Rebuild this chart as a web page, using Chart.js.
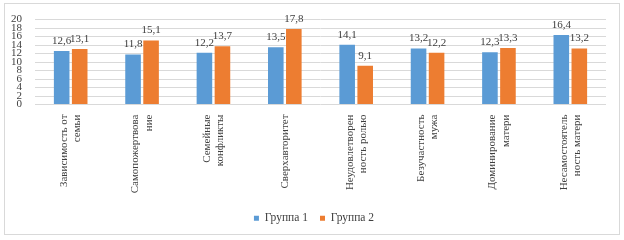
<!DOCTYPE html>
<html>
<head>
<meta charset="utf-8">
<script src="https://cdn.jsdelivr.net/npm/chart.js@4"></script>
<style>
  body { margin: 0; background: #fff; }
  #wrap { position: relative; width: 624px; height: 240px; }
  #frame { position: absolute; left: 4px; top: 3px; width: 616px; height: 232px;
           border: 1px solid #d9d9d9; box-sizing: border-box; pointer-events: none; }
  canvas { position: absolute; left: 0; top: 0; }
</style>
</head>
<body>
<div id="wrap">
  <canvas id="chart" width="624" height="240"></canvas>
  <div id="frame"></div>
</div>
<script>
// Kategorien (mehrzeilig wie im Original)
const categories = [
    ['Зависимость от', 'семьи'],
    ['Самопожертвова', 'ние'],
    ['Семейные', 'конфликты'],
    ['', 'Сверхавторитет'],
    ['Неудовлетворен', 'ность ролью'],
    ['Безучастность', 'мужа'],
    ['Доминирование', 'матери'],
    ['Несамостоятель', 'ность матери']
];
const group1 = [12.6, 11.8, 12.2, 13.5, 14.1, 13.2, 12.3, 16.4];
const group2 = [13.1, 15.1, 13.7, 17.8, 9.1, 12.2, 13.3, 13.2];
const seriesNames = ['Группа 1', 'Группа 2'];
const yMin = 0, yMax = 20, yStep = 2;

const FONT = 'Liberation Serif';
const TEXT = '#404040';

// Werte über den Balken (Komma als Dezimaltrenner)
const valueLabels = {
    id: 'valueLabels',
    afterDatasetsDraw(chart) {
        const { ctx } = chart;
        ctx.save();
        ctx.font = '11px "' + FONT + '"';
        ctx.fillStyle = TEXT;
        ctx.textAlign = 'center';
        ctx.textBaseline = 'alphabetic';
        chart.data.datasets.forEach((ds, i) => {
            const meta = chart.getDatasetMeta(i);
            meta.data.forEach((bar, j) => {
                const txt = ds.data[j].toFixed(1).replace('.', ',');
                ctx.fillText(txt, bar.x, bar.y - 7);
            });
        });
        ctx.restore();
    }
};

// Legende etwas nach rechts schieben (wie im Original)
const legendShift = {
    id: 'legendShift',
    afterLayout(chart) {
        if (chart.legend) {
            chart.legend.left += 6;
            chart.legend.right += 6;
        }
    }
};

new Chart(document.getElementById('chart'), {
    type: 'bar',
    data: {
        labels: categories,
        datasets: [
            {
                label: seriesNames[0],
                data: group1,
                backgroundColor: '#5b9bd5',
                categoryPercentage: 0.505,
                barPercentage: 0.865
            },
            {
                label: seriesNames[1],
                data: group2,
                backgroundColor: '#ed7d31',
                categoryPercentage: 0.505,
                barPercentage: 0.865
            }
        ]
    },
    options: {
        responsive: false,
        animation: false,
        layout: { padding: { left: 10, right: 18, top: 19, bottom: 6 } },
        plugins: {
            legend: {
                position: 'bottom',
                labels: {
                    boxWidth: 5,
                    boxHeight: 5,
                    padding: 12,
                    color: TEXT,
                    font: { family: FONT, size: 11.5 }
                }
            },
            tooltip: { enabled: false }
        },
        scales: {
            x: {
                grid: { display: false },
                border: { display: false },
                ticks: {
                    minRotation: 90,
                    maxRotation: 90,
                    autoSkip: false,
                    padding: 2,
                    labelOffset: -6.5,
                    color: TEXT,
                    // einzeiliges Label mittig setzen: kleine Zeilenhöhe für die Leerzeile
                    font: (c) => ({ family: FONT, size: 11, lineHeight: c.index === 3 ? 0.6 : 1.2 })
                },
                afterFit(scale) { scale.height = 96; }
            },
            y: {
                min: yMin,
                max: yMax,
                grid: { color: '#d9d9d9', drawTicks: false },
                border: { display: false },
                ticks: {
                    stepSize: yStep,
                    autoSkip: false,
                    padding: 13,
                    color: TEXT,
                    font: { family: FONT, size: 11 }
                },
                afterFit(scale) { scale.width = 25; }
            }
        }
    },
    plugins: [valueLabels, legendShift]
});
</script>
</body>
</html>
